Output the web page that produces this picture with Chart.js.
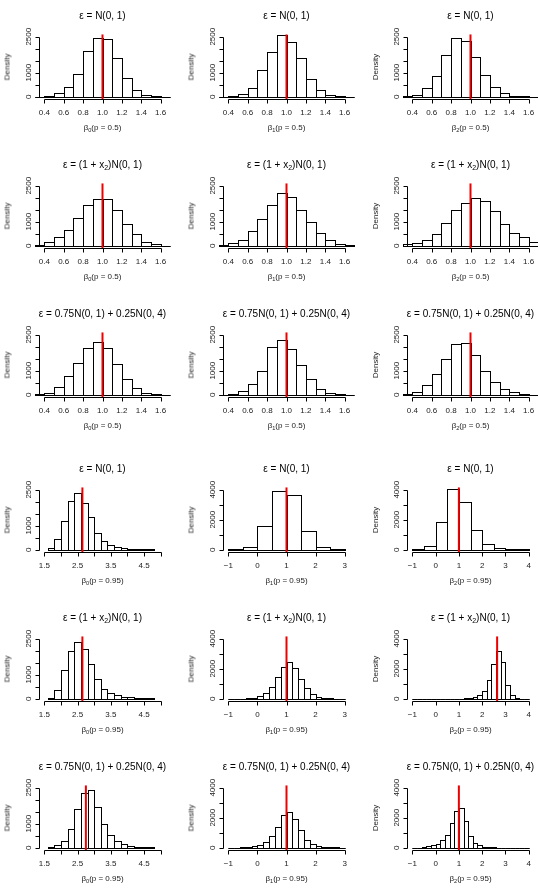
<!DOCTYPE html>
<html>
<head>
<meta charset="utf-8">
<script src="https://cdn.jsdelivr.net/npm/chart.js@4.4.1/dist/chart.umd.min.js"></script>
<style>
  html, body { margin: 0; padding: 0; background: #fff; }
  body { width: 538px; height: 888px; position: relative; overflow: hidden;
         font-family: "Liberation Sans", Arial, sans-serif; color: #000; }
  .panel { position: absolute; width: 184px; height: 149px; }
  .panel canvas { position: absolute; left: 0; top: 0; }
  .ttl { position: absolute; left: 0; width: 205px; top: 8.5px; text-align: center;
         font-size: 10px; line-height: 13px; white-space: nowrap; }
  .ttl sub, .xlab sub { font-size: 70%; vertical-align: -2px; line-height: 0; }
  .ylab { position: absolute; left: 7px; top: 67px; font-size: 8px; white-space: nowrap;
          transform: translate(-50%, -50%) rotate(-90deg); color: #222; }
  .xlab { position: absolute; left: 0; width: 205px; top: 122px; text-align: center;
          font-size: 8px; line-height: 11px; white-space: nowrap; color: #222; }
</style>
</head>
<body>
<script>
// lower bin edges
const binsP05 = [0.3, 0.4, 0.5, 0.6, 0.7, 0.8, 0.9, 1.0, 1.1, 1.2, 1.3, 1.4, 1.5, 1.6];
const binsB0P95 = [1.6, 1.8, 2.0, 2.2, 2.4, 2.6, 2.8, 3.0, 3.2, 3.4, 3.6, 3.8, 4.0, 4.2, 4.4, 4.6];
const binsWideB1 = [-1, -0.5, 0, 0.5, 1, 1.5, 2, 2.5];
const binsWideB2 = [-1, -0.5, 0, 0.5, 1, 1.5, 2, 2.5, 3, 3.5];
const binsFineB1 = [-1, -0.8, -0.6, -0.4, -0.2, 0, 0.2, 0.4, 0.6, 0.8, 1, 1.2, 1.4, 1.6, 1.8, 2, 2.2, 2.4, 2.6, 2.8];
const binsFineB2 = [-1, -0.8, -0.6, -0.4, -0.2, 0, 0.2, 0.4, 0.6, 0.8, 1, 1.2, 1.4, 1.6, 1.8, 2, 2.2, 2.4, 2.6, 2.8, 3, 3.2, 3.4, 3.6, 3.8];

// counts, p = 0.5
const b0NormP05 = [null, 30, 140, 420, 945, 1915, 2430, 2390, 1625, 765, 280, 70, 20, null];
const b1NormP05 = [null, 30, 130, 370, 1115, 1865, 2590, 2270, 1610, 720, 270, 70, 25, null];
const b2NormP05 = [30, 80, 350, 880, 1745, 2455, 2340, 1675, 895, 400, 140, 40, 15, null];
const b0HetP05 = [40, 170, 380, 675, 1140, 1685, 1940, 1940, 1500, 925, 480, 170, 60, null];
const b1HetP05 = [20, 100, 250, 600, 1100, 1700, 2200, 2050, 1500, 1000, 550, 250, 80, 20];
const b2HetP05 = [60, 100, 250, 500, 950, 1500, 1800, 2000, 1850, 1450, 900, 550, 350, 150];
const b0MixP05 = [30, 85, 310, 765, 1320, 1960, 2215, 1960, 1290, 665, 270, 70, 30, null];
const b1MixP05 = [null, 50, 150, 450, 1000, 2000, 2300, 1900, 1250, 650, 250, 80, 20, null];
const b2MixP05 = [30, 100, 400, 850, 1500, 2100, 2150, 1650, 1000, 550, 250, 120, 40, null];

// counts, p = 0.95
const b0NormP95 = [70, 450, 1200, 2030, 2370, 1950, 1370, 705, 380, 210, 110, 70, 40, 30, 15, 10];
const b1NormP95 = [20, 180, 1580, 3910, 3660, 1245, 180, 20];
const b2NormP95 = [20, 270, 1830, 4020, 3170, 1320, 360, 90, 40, 20];
const b0HetP95 = [40, 365, 1210, 1995, 2345, 2080, 1430, 840, 410, 255, 140, 85, 55, 40, 25, 15];
const b1HetP95 = [5, 5, 10, 20, 60, 150, 400, 800, 1450, 2100, 2450, 2050, 1300, 700, 300, 130, 50, 20, 10, 5];
const b2HetP95 = [null, null, null, null, null, null, null, 5, 5, 8, 10, 15, 45, 90, 225, 495, 1260, 2320, 3150, 2430, 920, 225, 45, 10, null];
const b0MixP95 = [30, 100, 300, 800, 1600, 2300, 2400, 1700, 1000, 550, 300, 170, 90, 50, 25, 15];
const b1MixP95 = [10, 10, 15, 45, 90, 160, 385, 790, 1400, 2170, 2370, 1900, 1175, 500, 225, 90, 45, 20, 15, 10];
const b2MixP95 = [null, 5, 25, 90, 160, 270, 500, 880, 1630, 2420, 2645, 1785, 790, 340, 160, 70, 25, 15, null, null, null, null, null, null, null];

// true values (red lines)
const truthP05 = [1, 1, 1];
const truthNormP95 = [2.645, 1, 1];
const truthHetP95 = [2.645, 1, 2.645];
const truthMixP95 = [2.75, 1, 1];

// axis ticks and labels
const xTicksP05 = [0.4, 0.6, 0.8, 1.0, 1.2, 1.4, 1.6];
const xLabelsP05 = ['0.4', '0.6', '0.8', '1.0', '1.2', '1.4', '1.6'];
const xTicksB0 = [1.5, 2, 2.5, 3, 3.5, 4, 4.5, 5];
const xLabelsB0 = ['1.5', '', '2.5', '', '3.5', '', '4.5', ''];
const xTicksB1 = [-1, 0, 1, 2, 3];
const xLabelsB1 = ['\u22121', '0', '1', '2', '3'];
const xTicksB2 = [-1, 0, 1, 2, 3, 4];
const xLabelsB2 = ['\u22121', '0', '1', '2', '3', '4'];
const yTicks2500 = [0, 500, 1000, 1500, 2000, 2500];
const yLabels2500 = ['0', '', '1000', '', '', '2500'];
const yTicks4000 = [0, 1000, 2000, 3000, 4000];
const yLabels4000 = ['0', '', '2000', '', '4000'];

const titleNorm = '\u03b5 = N(0, 1)';
const titleHet = '\u03b5 = (1 + x<sub>2</sub>)N(0, 1)';
const titleMix = '\u03b5 = 0.75N(0, 1) + 0.25N(0, 4)';

const rowY = [0, 149, 298, 453, 602, 751];
const colX = [0, 184, 368];

const p05Axes = { xTicks: xTicksP05, xLabels: xLabelsP05, yTicks: yTicks2500, yLabels: yLabels2500, binW: 0.1 };

const panels = [
    { row: 0, col: 0, title: titleNorm, j: 0, p: '0.5', bins: binsP05, counts: b0NormP05, truth: truthP05[0], ...p05Axes },
    { row: 0, col: 1, title: titleNorm, j: 1, p: '0.5', bins: binsP05, counts: b1NormP05, truth: truthP05[1], ...p05Axes },
    { row: 0, col: 2, title: titleNorm, j: 2, p: '0.5', bins: binsP05, counts: b2NormP05, truth: truthP05[2], ...p05Axes },
    { row: 1, col: 0, title: titleHet, j: 0, p: '0.5', bins: binsP05, counts: b0HetP05, truth: truthP05[0], ...p05Axes },
    { row: 1, col: 1, title: titleHet, j: 1, p: '0.5', bins: binsP05, counts: b1HetP05, truth: truthP05[1], ...p05Axes },
    { row: 1, col: 2, title: titleHet, j: 2, p: '0.5', bins: binsP05, counts: b2HetP05, truth: truthP05[2], ...p05Axes },
    { row: 2, col: 0, title: titleMix, j: 0, p: '0.5', bins: binsP05, counts: b0MixP05, truth: truthP05[0], ...p05Axes },
    { row: 2, col: 1, title: titleMix, j: 1, p: '0.5', bins: binsP05, counts: b1MixP05, truth: truthP05[1], ...p05Axes },
    { row: 2, col: 2, title: titleMix, j: 2, p: '0.5', bins: binsP05, counts: b2MixP05, truth: truthP05[2], ...p05Axes },

    { row: 3, col: 0, title: titleNorm, j: 0, p: '0.95', bins: binsB0P95, binW: 0.2, counts: b0NormP95, truth: truthNormP95[0],
      xTicks: xTicksB0, xLabels: xLabelsB0, yTicks: yTicks2500, yLabels: yLabels2500 },
    { row: 3, col: 1, title: titleNorm, j: 1, p: '0.95', bins: binsWideB1, binW: 0.5, counts: b1NormP95, truth: truthNormP95[1],
      xTicks: xTicksB1, xLabels: xLabelsB1, yTicks: yTicks4000, yLabels: yLabels4000 },
    { row: 3, col: 2, title: titleNorm, j: 2, p: '0.95', bins: binsWideB2, binW: 0.5, counts: b2NormP95, truth: truthNormP95[2],
      xTicks: xTicksB2, xLabels: xLabelsB2, yTicks: yTicks4000, yLabels: yLabels4000 },
    { row: 4, col: 0, title: titleHet, j: 0, p: '0.95', bins: binsB0P95, binW: 0.2, counts: b0HetP95, truth: truthHetP95[0],
      xTicks: xTicksB0, xLabels: xLabelsB0, yTicks: yTicks2500, yLabels: yLabels2500 },
    { row: 4, col: 1, title: titleHet, j: 1, p: '0.95', bins: binsFineB1, binW: 0.2, counts: b1HetP95, truth: truthHetP95[1],
      xTicks: xTicksB1, xLabels: xLabelsB1, yTicks: yTicks4000, yLabels: yLabels4000 },
    { row: 4, col: 2, title: titleHet, j: 2, p: '0.95', bins: binsFineB2, binW: 0.2, counts: b2HetP95, truth: truthHetP95[2],
      xTicks: xTicksB2, xLabels: xLabelsB2, yTicks: yTicks4000, yLabels: yLabels4000 },
    { row: 5, col: 0, title: titleMix, j: 0, p: '0.95', bins: binsB0P95, binW: 0.2, counts: b0MixP95, truth: truthMixP95[0],
      xTicks: xTicksB0, xLabels: xLabelsB0, yTicks: yTicks2500, yLabels: yLabels2500 },
    { row: 5, col: 1, title: titleMix, j: 1, p: '0.95', bins: binsFineB1, binW: 0.2, counts: b1MixP95, truth: truthMixP95[1],
      xTicks: xTicksB1, xLabels: xLabelsB1, yTicks: yTicks4000, yLabels: yLabels4000 },
    { row: 5, col: 2, title: titleMix, j: 2, p: '0.95', bins: binsFineB2, binW: 0.2, counts: b2MixP95, truth: truthMixP95[2],
      xTicks: xTicksB2, xLabels: xLabelsB2, yTicks: yTicks4000, yLabels: yLabels4000 }
];

// outline every histogram cell like R's rect(): shared 1px edges
const histOutline = {
    id: 'histOutline',
    afterDatasetDraw(chart, args) {
        if (args.meta.type !== 'bar') return;
        const ctx = chart.ctx;
        ctx.save();
        ctx.strokeStyle = '#000';
        ctx.lineWidth = 1;
        args.meta.data.forEach(el => {
            const { x, y, base, width } = el.getProps(['x', 'y', 'base', 'width'], true);
            if (!isFinite(y)) return;
            const l = Math.round(x - width / 2), r = Math.round(x + width / 2);
            const t = Math.round(y), b = Math.round(base);
            ctx.strokeRect(l + 0.5, t + 0.5, r - l, Math.max(b - t, 0));
        });
        ctx.restore();
    }
};

// R-style axes: line only over the tick range, rotated y labels
const rAxes = {
    id: 'rAxes',
    afterDraw(chart, args, opts) {
        const { ctx, chartArea: a, scales: { x, y } } = chart;
        ctx.save();
        ctx.strokeStyle = '#000';
        ctx.lineWidth = 1;
        ctx.fillStyle = '#222';
        ctx.font = '8px "Liberation Sans", Arial, sans-serif';
        ctx.textAlign = 'center';
        ctx.textBaseline = 'middle';

        const yAx = Math.round(a.bottom) + 0.5;
        ctx.beginPath();
        ctx.moveTo(Math.round(x.getPixelForValue(opts.xTicks[0])) + 0.5, yAx);
        ctx.lineTo(Math.round(x.getPixelForValue(opts.xTicks[opts.xTicks.length - 1])) + 0.5, yAx);
        opts.xTicks.forEach(v => {
            const px = Math.round(x.getPixelForValue(v)) + 0.5;
            ctx.moveTo(px, yAx);
            ctx.lineTo(px, yAx + 4);
        });
        ctx.stroke();
        opts.xTicks.forEach((v, i) => {
            if (opts.xLabels[i]) ctx.fillText(opts.xLabels[i], x.getPixelForValue(v), yAx + 13);
        });

        const xAx = Math.round(a.left) - 0.5;
        ctx.beginPath();
        ctx.moveTo(xAx, Math.round(y.getPixelForValue(opts.yTicks[0])) + 0.5);
        ctx.lineTo(xAx, Math.round(y.getPixelForValue(opts.yTicks[opts.yTicks.length - 1])) + 0.5);
        opts.yTicks.forEach(v => {
            const py = Math.round(y.getPixelForValue(v)) + 0.5;
            ctx.moveTo(xAx, py);
            ctx.lineTo(xAx - 4, py);
        });
        ctx.stroke();
        opts.yTicks.forEach((v, i) => {
            if (!opts.yLabels[i]) return;
            ctx.save();
            ctx.translate(xAx - 11, y.getPixelForValue(v));
            ctx.rotate(-Math.PI / 2);
            ctx.fillText(opts.yLabels[i], 0, 0);
            ctx.restore();
        });
        ctx.restore();
    }
};

panels.forEach(p => {
    const wrap = document.createElement('div');
    wrap.className = 'panel';
    wrap.style.left = colX[p.col] + 'px';
    wrap.style.top = rowY[p.row] + 'px';
    wrap.innerHTML = `<canvas width="184" height="149"></canvas>
        <div class="ttl">${p.title}</div>
        <div class="ylab">Density</div>
        <div class="xlab">\u03b2<sub>${p.j}</sub>(p = ${p.p})</div>`;
    document.body.appendChild(wrap);

    const xLo = p.xTicks[0];
    const xHi = p.xTicks[p.xTicks.length - 1];
    const xPad = (xHi - xLo) * 0.04;
    const yTop = p.yTicks[p.yTicks.length - 1];

    new Chart(wrap.querySelector('canvas').getContext('2d'), {
        type: 'bar',
        data: {
            datasets: [{
                type: 'line',
                data: [{ x: p.truth, y: -0.04 * yTop }, { x: p.truth, y: 1.04 * yTop }],
                borderColor: '#ee0000',
                borderWidth: 2,
                pointRadius: 0,
                order: 0
            }, {
                data: p.bins.map((b, i) => ({ x: b + p.binW / 2, y: p.counts[i] })),
                backgroundColor: '#fff',
                borderWidth: 0,
                barPercentage: 1,
                categoryPercentage: 1,
                order: 1
            }]
        },
        options: {
            responsive: false,
            animation: false,
            events: [],
            layout: { padding: { left: 39.7, right: 18.7, top: 34.3, bottom: 49.9 } },
            scales: {
                x: {
                    type: 'linear', display: false, offset: false,
                    min: xLo - xPad, max: xHi + xPad,
                    afterBuildTicks: s => { s.ticks = p.xTicks.map(v => ({ value: v })); }
                },
                y: { type: 'linear', display: false, min: -0.04 * yTop, max: 1.04 * yTop }
            },
            plugins: {
                legend: { display: false },
                tooltip: { enabled: false },
                rAxes: { xTicks: p.xTicks, xLabels: p.xLabels, yTicks: p.yTicks, yLabels: p.yLabels }
            }
        },
        plugins: [histOutline, rAxes]
    });
});
</script>
</body>
</html>
